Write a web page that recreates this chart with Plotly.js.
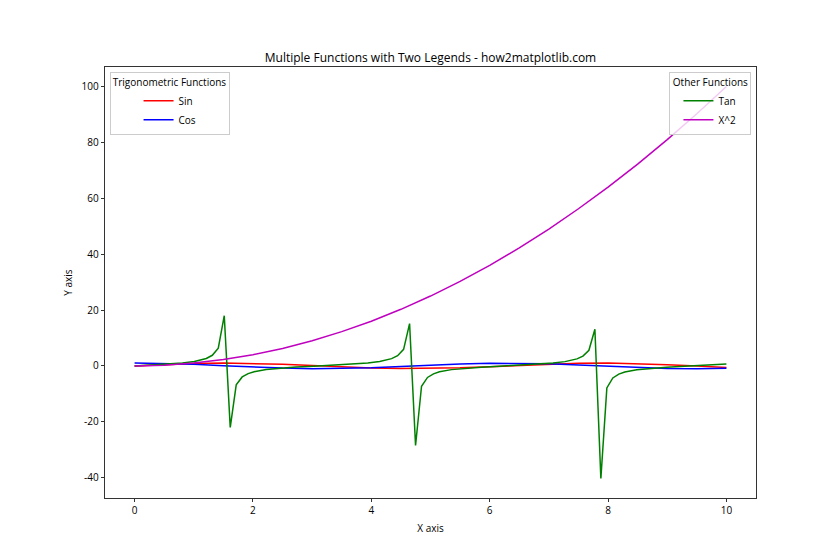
<!DOCTYPE html>
<html>
<head>
<meta charset="utf-8">
<script src="https://cdn.plot.ly/plotly-3.0.1.min.js"></script>
<style>html,body{margin:0;padding:0;background:#fff;}#chart{width:840px;height:560px;}</style>
</head>
<body>
<div id="chart"></div>
<script>
// Smooth curves sampled every 0.5
const xSmooth = [0,0.5,1,1.5,2,2.5,3,3.5,4,4.5,5,5.5,6,6.5,7,7.5,8,8.5,9,9.5,10];
const sinValues = [0,0.479,0.841,0.997,0.909,0.598,0.141,-0.351,-0.757,-0.978,-0.959,-0.706,-0.279,0.215,0.657,0.938,0.989,0.798,0.412,-0.075,-0.544];
const cosValues = [1,0.878,0.540,0.071,-0.416,-0.801,-0.990,-0.936,-0.654,-0.211,0.284,0.709,0.960,0.977,0.754,0.347,-0.146,-0.602,-0.911,-0.997,-0.839];
const squareValues = [0,0.25,1,2.25,4,6.25,9,12.25,16,20.25,25,30.25,36,42.25,49,56.25,64,72.25,81,90.25,100];
// Tan samples (denser near the jumps)
const xTan = [0,0.30303,0.60606,0.80808,1.0101,1.11111,1.21212,1.31313,1.41414,1.51515,1.61616,1.71717,1.81818,1.91919,2.0202,2.22222,2.42424,2.72727,3.0303,3.33333,3.63636,3.93939,4.14141,4.24242,4.34343,4.44444,4.54545,4.64646,4.74747,4.84848,4.94949,5.05051,5.15152,5.35354,5.55556,5.85859,6.16162,6.46465,6.76768,7.07071,7.27273,7.37374,7.47475,7.57576,7.67677,7.77778,7.87879,7.9798,8.08081,8.18182,8.28283,8.48485,8.68687,8.9899,9.29293,9.59596,9.79798,10];
const tanValues = [0,0.3127,0.693,1.047,1.5926,2.0199,2.6675,3.7947,6.3311,17.953,-22.028,-6.7829,-3.9594,-2.7532,-2.0733,-1.3116,-0.8724,-0.4398,-0.1118,0.1941,0.5395,1.0251,1.5568,1.9687,2.5862,3.6424,5.9346,15.147,-28.49,-7.3024,-4.1382,-2.844,-2.1289,-1.3399,-0.8907,-0.4521,-0.1222,0.1835,0.5263,1.0043,1.5222,1.9197,2.5093,3.501,5.5838,13.0975,-40.303,-7.9061,-4.3328,-2.9402,-2.1871,-1.369,-0.9093,-0.4645,-0.1326,0.1729,0.3915,0.6484];
const xTicks = [0,2,4,6,8,10];
const yTicks = [-40,-20,0,20,40,60,80,100];
const yTickText = ["-40","-20","0","20","40","60","80","100"];

const font = {family: "Open Sans, DejaVu Sans, sans-serif", size: 10, color: "#000"};
const lw = 1.5;

const traces = [
  {x: xSmooth, y: sinValues, name: "Sin", mode: "lines", line: {color: "#ff0000", width: lw}, legend: "legend"},
  {x: xSmooth, y: cosValues, name: "Cos", mode: "lines", line: {color: "#0000ff", width: lw}, legend: "legend"},
  {x: xTan, y: tanValues, name: "Tan", mode: "lines", line: {color: "#008000", width: lw}, legend: "legend2"},
  {x: xSmooth, y: squareValues, name: "X^2", mode: "lines", line: {color: "#bf00bf", width: lw}, legend: "legend2"}
];

const legendCommon = {
  bgcolor: "rgba(255,255,255,0.8)", bordercolor: "#cccccc", borderwidth: 1,
  font: font, yref: "paper", xref: "paper", y: 0.988, yanchor: "top",
  tracegroupgap: 0, itemwidth: 30
};

const layout = {
  width: 840, height: 560,
  paper_bgcolor: "#fff", plot_bgcolor: "#fff",
  margin: {l: 105, r: 84, t: 67, b: 62, pad: 0},
  font: font,
  showlegend: true,
  title: {text: "Multiple Functions with Two Legends - how2matplotlib.com", font: {family: font.family, size: 12, color: "#000"},
          x: 0.5, xref: "paper", xanchor: "center", y: 1, yref: "paper", yanchor: "bottom", pad: {b: 5}},
  xaxis: {range: [-0.5, 10.5], tickvals: xTicks, ticks: "outside", ticklen: 3.5, tickwidth: 0.8, tickcolor: "#000",
          showgrid: false, zeroline: false, showline: true, mirror: true, linecolor: "#000", linewidth: 0.8,
          tickfont: font, title: {text: "X axis", font: font, standoff: 8}},
  yaxis: {range: [-47.3, 107.0], tickvals: yTicks, ticktext: yTickText, ticks: "outside", ticklen: 3.5, tickwidth: 0.8, tickcolor: "#000",
          showgrid: false, zeroline: false, showline: true, mirror: true, linecolor: "#000", linewidth: 0.8,
          tickfont: font, title: {text: "Y axis", font: font, standoff: 6}},
  legend: Object.assign({}, legendCommon, {x: 0.007, xanchor: "left", indentation: 28, title: {text: "Trigonometric Functions", side: "top center", font: font}}),
  legend2: Object.assign({}, legendCommon, {x: 0.993, xanchor: "right", indentation: 8, title: {text: "Other Functions", side: "top center", font: font}})
};

Plotly.newPlot("chart", traces, layout, {displayModeBar: false, staticPlot: true});
</script>
</body>
</html>
